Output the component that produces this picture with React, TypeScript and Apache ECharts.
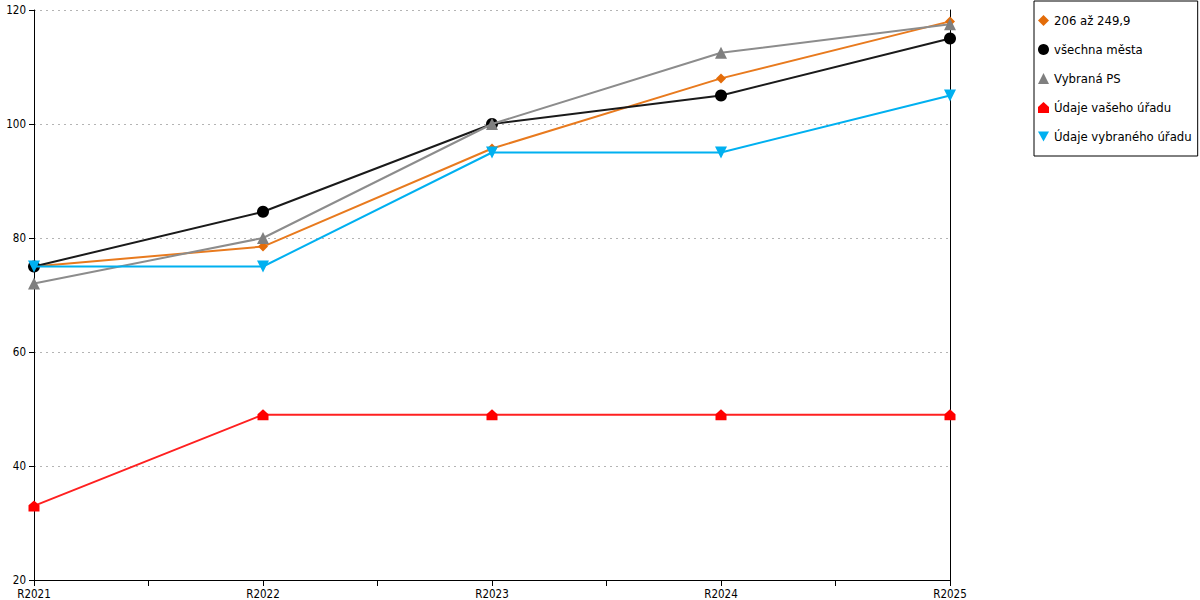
import React, { useEffect, useRef } from "react";
import * as echarts from "echarts";

const categories = ["R2021", "R2022", "R2023", "R2024", "R2025"];
const seriesNames = [
  "206 až 249,9",
  "všechna města",
  "Vybraná PS",
  "Údaje vašeho úřadu",
  "Údaje vybraného úřadu",
];
const orangeValues = [75, 78.5, 95.7, 108, 118];
const blackValues = [75, 84.6, 100, 105, 115];
const grayValues = [72, 80, 100, 112.5, 117.5];
const redValues = [33, 49, 49, 49, 49];
const cyanValues = [75, 75, 95, 95, 105];
const yTicks = [20, 40, 60, 80, 100, 120];

const FONT = "'DejaVu Sans Condensed', 'DejaVu Sans', sans-serif";
const HOUSE = "path://M5,0 L10,4.5 L10,10 L0,10 L0,4.5 Z";
const DOWN_TRI = "path://M0,0 L10,0 L5,9 Z";

export default function App() {
  const ref = useRef<HTMLDivElement>(null);
  useEffect(() => {
    if (!ref.current) return;
    const chart = echarts.init(ref.current, null, { renderer: "svg" });
    const styles = [
      { color: "#e36c09", symbol: "diamond", size: 10, lineColor: "#e87a1e" },
      { color: "#000000", symbol: "circle", size: 12, lineColor: "#1a1a1a" },
      { color: "#7f7f7f", symbol: "triangle", size: 12, lineColor: "#8c8c8c" },
      { color: "#ff0000", symbol: HOUSE, size: 11, lineColor: "#ff2020" },
      { color: "#00b0f0", symbol: DOWN_TRI, size: 12, lineColor: "#00b0f0" },
    ];
    const values = [orangeValues, blackValues, grayValues, redValues, cyanValues];
    chart.setOption({
      animation: false,
      textStyle: { fontFamily: FONT },
      grid: { left: 34, right: 250, top: 10, bottom: 20, containLabel: false },
      legend: {
        orient: "vertical",
        left: 1034,
        top: 1,
        padding: [13, 6, 13, 4],
        itemGap: 16,
        itemWidth: 11,
        itemHeight: 11,
        borderColor: "#000",
        borderWidth: 1,
        textStyle: { fontFamily: FONT, fontSize: 13, color: "#000" },
        data: seriesNames.map((n, i) => ({
          name: n,
          icon: styles[i].symbol,
          itemStyle: { color: styles[i].color },
        })),
      },
      xAxis: {
        type: "value",
        min: 0,
        max: categories.length - 1,
        interval: 1,
        axisLine: { show: true, lineStyle: { color: "#000", width: 1 } },
        axisTick: { show: true, length: 6, lineStyle: { color: "#000" } },
        minorTick: { show: true, splitNumber: 2, length: 6, lineStyle: { color: "#000" } },
        splitLine: { show: false },
        axisLabel: {
          fontFamily: FONT,
          fontSize: 11.5,
          color: "#000",
          margin: 8,
          formatter: (v: number) => categories[v] ?? "",
        },
      },
      yAxis: [
        {
          type: "value",
          min: yTicks[0],
          max: yTicks[yTicks.length - 1],
          interval: 20,
          axisLine: { show: true, lineStyle: { color: "#000", width: 1 } },
          axisTick: { show: true, length: 5, lineStyle: { color: "#000" } },
          splitLine: { show: true, lineStyle: { color: "#b4b4b4", type: [2, 4], width: 1 } },
          axisLabel: { fontFamily: FONT, fontSize: 11.5, color: "#000", margin: 8 },
        },
        {
          type: "value",
          position: "right",
          min: yTicks[0],
          max: yTicks[yTicks.length - 1],
          interval: 20,
          axisLine: { show: true, lineStyle: { color: "#000", width: 1 } },
          axisTick: { show: false },
          splitLine: { show: false },
          axisLabel: { show: false },
        },
      ],
      series: seriesNames.map((n, i) => ({
        name: n,
        type: "line",
        yAxisIndex: 0,
        data: values[i].map((v, j) => [j, v]),
        symbol: styles[i].symbol,
        symbolSize: styles[i].size,
        showAllSymbol: true,
        itemStyle: { color: styles[i].color },
        lineStyle: { color: styles[i].lineColor, width: 2 },
        z: 2 + i,
      })),
    });
    return () => chart.dispose();
  }, []);
  return (
    <div
      ref={ref}
      style={{ position: "absolute", left: 0, top: 0, width: 1200, height: 600 }}
    />
  );
}
